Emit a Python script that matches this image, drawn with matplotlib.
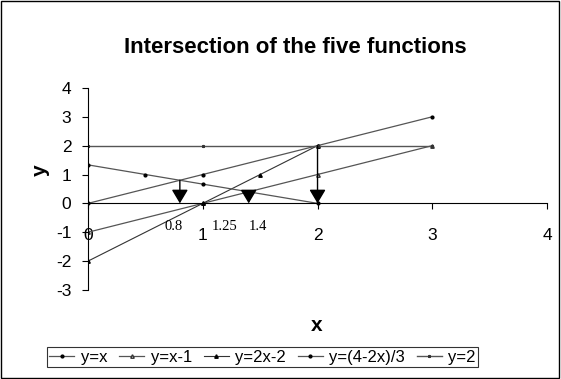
import matplotlib.pyplot as plt
from matplotlib.patches import Rectangle

plt.rcParams["font.family"] = ["Liberation Sans", "DejaVu Sans"]
plt.rcParams["axes.unicode_minus"] = False

# series
x_lin = [0, 1, 2, 3]
y_x = [0, 1, 2, 3]
y_xm1 = [-1, 0, 1, 2]
x_2x = [0, 1, 1.5, 2]
y_2x = [-2, 0, 1, 2]
x_q = [0, 0.5, 1, 2]
y_q = [4 / 3, 1, 2 / 3, 0]
y_two = [2, 2, 2, 2]

# intersection arrows (x, start y)
arrow_x = [0.8, 1.4, 2]
arrow_y = [0.8, 0.4, 2]
mark_labels = ["0.8", "1.25", "1.4"]
label_x = [0.75, 1.19, 1.48]   # where the labels sit in the reference

fig = plt.figure(figsize=(5.61, 3.79), dpi=100)
fig.patches.append(Rectangle((0.002, 0.003), 0.995, 0.994, transform=fig.transFigure,
                             fill=False, edgecolor="black", lw=1))
ax = fig.add_axes([0.157, 0.235, 0.818, 0.533])

lc = "#555555"
ax.plot(x_lin, y_x, color=lc, lw=0.9, marker="o", ms=2, mfc="black", mec="black", label="y=x")
ax.plot(x_lin, y_xm1, color=lc, lw=0.9, marker="^", ms=2.5, mfc="white", mec="#333333", label="y=x-1")
ax.plot(x_2x, y_2x, color="#333333", lw=0.8, marker="^", ms=2.5, mfc="black", mec="black", label="y=2x-2")
ax.plot(x_q, y_q, color=lc, lw=0.9, marker="o", ms=2, mfc="black", mec="black", label="y=(4-2x)/3")
ax.plot(x_lin, y_two, color=lc, lw=1.0, marker="*", ms=2, mfc="#333333", mec="#333333", label="y=2")

for xa, ya in zip(arrow_x, arrow_y):
    ax.annotate("", xy=(xa, 0), xytext=(xa, ya),
                arrowprops=dict(arrowstyle="-|>,head_width=0.25,head_length=0.42",
                                color="black", lw=1, mutation_scale=20, shrinkA=0, shrinkB=0))

for lab, xp in zip(mark_labels, label_x):
    ax.text(xp, -0.8, lab, family="Liberation Serif", fontsize=10.5, ha="center", va="center")

ax.set_xlim(0, 4)
ax.set_ylim(-3, 4)
ax.set_xticks([0, 1, 2, 3, 4])
ax.set_yticks(range(-3, 5))
ax.spines["top"].set_visible(False)
ax.spines["right"].set_visible(False)
ax.spines["bottom"].set_position(("data", 0))
ax.tick_params(axis="x", direction="out", length=4, pad=14, labelsize=12.5)
ax.tick_params(axis="y", direction="out", length=4, pad=8, labelsize=12.5)

fig.text(0.526, 0.875, "Intersection of the five functions", ha="center", va="center",
         fontsize=16, fontweight="bold")
fig.text(0.072, 0.55, "y", ha="center", va="center", fontsize=15, fontweight="bold", rotation=90)
fig.text(0.565, 0.14, "x", ha="center", va="center", fontsize=15, fontweight="bold")

leg = fig.legend(loc="center", bbox_to_anchor=(0.468, 0.058), ncol=5, fontsize=12,
                 frameon=True, fancybox=False, handlelength=1.5, handletextpad=0.4,
                 columnspacing=0.7, borderpad=0.15, edgecolor="black")
leg.get_frame().set_linewidth(0.8)

fig.savefig("out.png", dpi=100)
